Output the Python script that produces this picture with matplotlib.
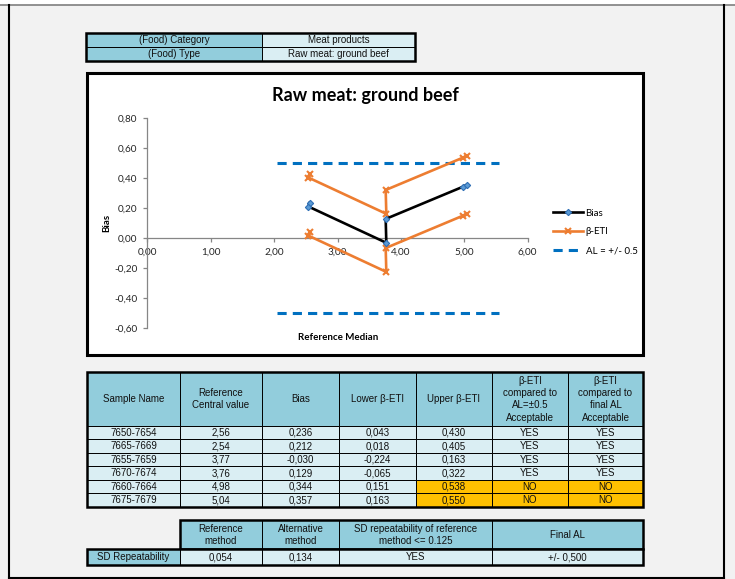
import matplotlib.pyplot as plt
from matplotlib.patches import Rectangle
from matplotlib.lines import Line2D
from matplotlib.ticker import FuncFormatter, MultipleLocator

# ---------------------------
# Data
# ---------------------------
food_category = "Meat products"
food_type = "Raw meat: ground beef"

samples = ["7650-7654", "7665-7669", "7655-7659", "7670-7674", "7660-7664", "7675-7679"]
ref_central = [2.56, 2.54, 3.77, 3.76, 4.98, 5.04]
bias = [0.236, 0.212, -0.030, 0.129, 0.344, 0.357]
lower_eti = [0.043, 0.018, -0.224, -0.065, 0.151, 0.163]
upper_eti = [0.430, 0.405, 0.163, 0.322, 0.538, 0.550]

acc_limit = 0.5
final_al = 0.500
sd_ref = 0.054
sd_alt = 0.134
sd_ref_max = 0.125

# ---------------------------
# Styles
# ---------------------------
W, H = 735, 579
HEAD = '#92cddc'
BODY = '#daeef3'
WARN = '#ffc000'
ORANGE = '#ed7d31'
AL_BLUE = '#0070c0'
TABLE_FONT = 'Liberation Sans'
CHART_FONT = 'Lato'


def comma(v, nd):
    return f"{v:.{nd}f}".replace('.', ',')


fig = plt.figure(figsize=(W / 100, H / 100), dpi=100, facecolor='#f2f2f2')

# full-page axes in pixel units for the sheet cells
page = fig.add_axes([0, 0, 1, 1])
page.set_xlim(0, W)
page.set_ylim(H, 0)
page.axis('off')


def cell(x0, x1, y0, y1, text='', fc=BODY, fs=7):
    page.add_patch(Rectangle((x0, y0), x1 - x0, y1 - y0, facecolor=fc,
                             edgecolor='black', lw=0.7))
    if text:
        page.text((x0 + x1) / 2, (y0 + y1) / 2 + 0.5, text, ha='center', va='center',
                  fontsize=fs, family=TABLE_FONT, color='#111111', linespacing=1.3)


def frame(x0, x1, y0, y1, lw=1.8):
    page.add_patch(Rectangle((x0, y0), x1 - x0, y1 - y0, fill=False,
                             edgecolor='black', lw=lw))


# sheet borders
page.add_patch(Rectangle((0, 0), W, 4.5, facecolor='white', edgecolor='none'))
page.plot([0, W], [4.5, 4.5], color='#7f7f7f', lw=1.2)
page.plot([9.5, 9.5], [5, 578], color='black', lw=1.5)
page.plot([724, 724], [5, 578], color='black', lw=1.5)
page.plot([9.5, 724], [577.5, 577.5], color='black', lw=1.5)

# category / type block
cell(86, 262, 33, 46.5, "(Food) Category", HEAD)
cell(262, 415, 33, 46.5, food_category, BODY)
cell(86, 262, 46.5, 60.5, "(Food) Type", HEAD)
cell(262, 415, 46.5, 60.5, food_type, BODY)
frame(86, 415, 33, 60.5)

# chart box
page.add_patch(Rectangle((87, 73), 643 - 87, 355 - 73, facecolor='white',
                         edgecolor='black', lw=2.2))

# ---------------------------
# Results table
# ---------------------------
cols = [87, 180, 262, 339, 416, 492, 568, 643]
headers = ["Sample Name", "Reference\nCentral value", "Bias", "Lower β-ETI",
           "Upper β-ETI", "β-ETI\ncompared to\nAL=±0.5\nAcceptable",
           "β-ETI\ncompared to\nfinal AL\nAcceptable"]
top, head_bot, row_h = 371.7, 425.7, 13.5
for i, h in enumerate(headers):
    cell(cols[i], cols[i + 1], top, head_bot, h, HEAD)

for r in range(len(samples)):
    y0 = head_bot + r * row_h
    y1 = y0 + row_h
    ok_al = abs(lower_eti[r]) <= acc_limit and abs(upper_eti[r]) <= acc_limit
    ok_final = abs(lower_eti[r]) <= final_al and abs(upper_eti[r]) <= final_al
    vals = [samples[r], comma(ref_central[r], 2), comma(bias[r], 3),
            comma(lower_eti[r], 3), comma(upper_eti[r], 3),
            "YES" if ok_al else "NO", "YES" if ok_final else "NO"]
    fcs = [BODY] * 7
    if upper_eti[r] > acc_limit:
        fcs[4] = WARN
    if not ok_al:
        fcs[5] = WARN
    if not ok_final:
        fcs[6] = WARN
    for i, v in enumerate(vals):
        cell(cols[i], cols[i + 1], y0, y1, v, fcs[i])
frame(cols[0], cols[-1], top, head_bot + len(samples) * row_h)

# ---------------------------
# Repeatability table
# ---------------------------
cell(180, 262, 520, 549, "Reference\nmethod", HEAD)
cell(262, 339, 520, 549, "Alternative\nmethod", HEAD)
cell(339, 492, 520, 549, "SD repeatability of reference\nmethod <= " + str(sd_ref_max), HEAD)
cell(492, 643, 520, 549, "Final AL", HEAD)
frame(180, 643, 520, 549)
cell(87, 180, 549, 565, "SD Repeatability", HEAD)
cell(180, 262, 549, 565, comma(sd_ref, 3), BODY)
cell(262, 339, 549, 565, comma(sd_alt, 3), BODY)
cell(339, 492, 549, 565, "YES" if sd_ref <= sd_ref_max else "NO", BODY)
cell(492, 643, 549, 565, "+/- " + comma(final_al, 3), BODY)
frame(87, 643, 549, 565)

# ---------------------------
# Bias chart
# ---------------------------
ax_l, ax_r, ax_t, ax_b = 147.3, 527.7, 118.3, 328.3
ax = fig.add_axes([ax_l / W, 1 - ax_b / H, (ax_r - ax_l) / W, (ax_b - ax_t) / H])
ax.patch.set_visible(False)

al_x = [min(ref_central) - 0.5, max(ref_central) + 0.5]
ax.plot(ref_central, bias, color='black', lw=1.9, marker='D', ms=3.2,
        mfc='#5b9bd5', mec='#2f6fb5', mew=0.8, zorder=4)
ax.plot(ref_central, upper_eti, color=ORANGE, lw=1.9, marker='x', ms=4.5,
        mew=1.5, zorder=3)
ax.plot(ref_central, lower_eti, color=ORANGE, lw=1.9, marker='x', ms=4.5,
        mew=1.5, zorder=3)
ax.plot(al_x, [acc_limit, acc_limit], color=AL_BLUE, lw=2.2, ls=(0, (3, 2)), zorder=2)
ax.plot(al_x, [-acc_limit, -acc_limit], color=AL_BLUE, lw=2.2, ls=(0, (3, 2)), zorder=2)

ax.set_xlim(0, 6)
ax.set_ylim(-0.6, 0.8)
ax.xaxis.set_major_locator(MultipleLocator(1))
ax.yaxis.set_major_locator(MultipleLocator(0.2))
ax.xaxis.set_major_formatter(FuncFormatter(lambda v, p: comma(v, 2)))
ax.yaxis.set_major_formatter(FuncFormatter(lambda v, p: comma(v, 2)))

for s in ['top', 'right']:
    ax.spines[s].set_visible(False)
ax.spines['bottom'].set_position(('data', 0))
for s in ['left', 'bottom']:
    ax.spines[s].set_color('#868686')
    ax.spines[s].set_linewidth(0.9)
ax.tick_params(colors='#868686', labelcolor='#262626', length=3, width=0.9,
               labelsize=7.2, pad=4)
for lbl in ax.get_xticklabels() + ax.get_yticklabels():
    lbl.set_family(CHART_FONT)

fig.text(365 / W, 1 - 96 / H, food_type, ha='center', va='center',
         fontsize=13, fontweight='bold', family=CHART_FONT)
fig.text(107 / W, 1 - 223 / H, "Bias", ha='center', va='center', rotation=90,
         fontsize=7, fontweight='bold', family=CHART_FONT)
fig.text(338 / W, 1 - 337.5 / H, "Reference Median", ha='center', va='center',
         fontsize=7, fontweight='bold', family=CHART_FONT)

handles = [
    Line2D([], [], color='black', lw=1.9, marker='D', ms=3.2, mfc='#5b9bd5',
           mec='#2f6fb5', mew=0.8),
    Line2D([], [], color=ORANGE, lw=1.9, marker='x', ms=4.5, mew=1.5),
    Line2D([], [], color=AL_BLUE, lw=2.2, ls=(0, (3, 2))),
]
fig.legend(handles, ["Bias", "β-ETI", "AL = +/- 0.5"], loc='center left',
           bbox_to_anchor=(553 / W, 1 - 232 / H), frameon=False,
           prop={'family': CHART_FONT, 'size': 7}, handlelength=3.1,
           handletextpad=0.25, labelspacing=1.0, borderpad=0, borderaxespad=0)

fig.savefig('out.png', dpi=100, facecolor=fig.get_facecolor())
